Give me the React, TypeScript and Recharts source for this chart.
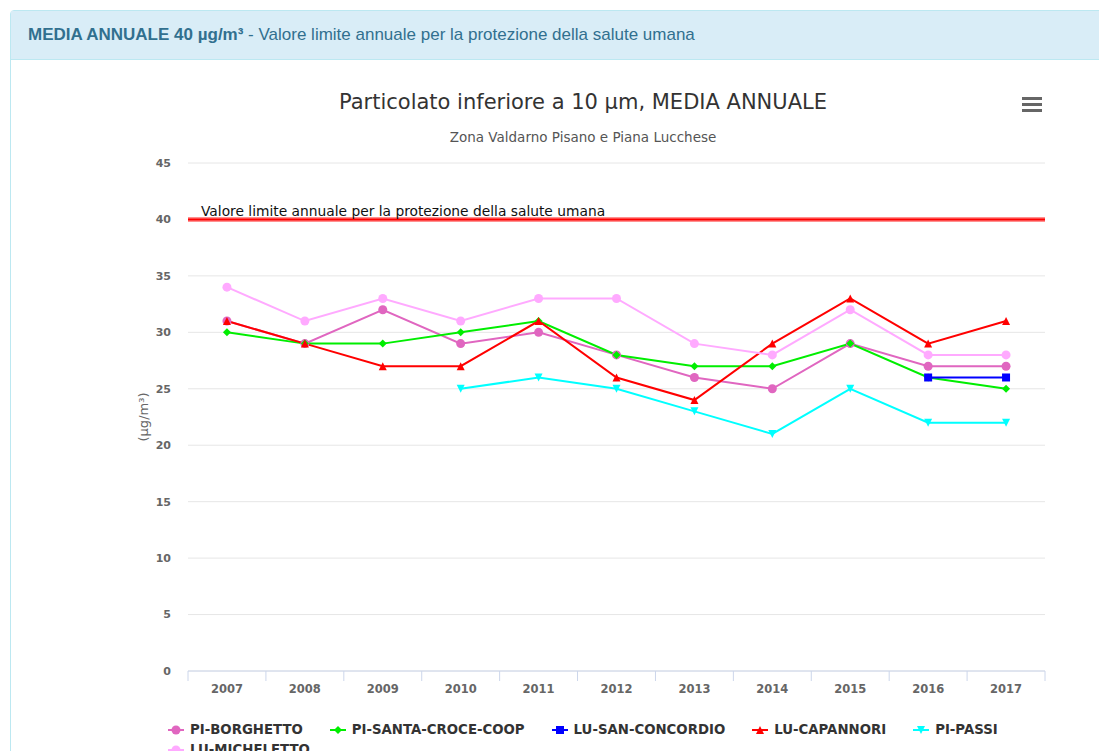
import { CartesianGrid, Legend, Line, LineChart, ReferenceLine, XAxis, YAxis } from "recharts";

const years = ["2007", "2008", "2009", "2010", "2011", "2012", "2013", "2014", "2015", "2016", "2017"];
const borghetto = [31, 29, 32, 29, 30, 28, 26, 25, 29, 27, 27];
const santaCroce = [30, 29, 29, 30, 31, 28, 27, 27, 29, 26, 25];
const sanConcordio = [null, null, null, null, null, null, null, null, null, 26, 26];
const capannori = [31, 29, 27, 27, 31, 26, 24, 29, 33, 29, 31];
const passi = [null, null, null, 25, 26, 25, 23, 21, 25, 22, 22];
const micheletto = [34, 31, 33, 31, 33, 33, 29, 28, 32, 28, 28];
const yTicks = [0, 5, 10, 15, 20, 25, 30, 35, 40, 45];
const limitValue = 40;
const limitLabel = "Valore limite annuale per la protezione della salute umana";

const series = [
  { key: "PI-BORGHETTO", values: borghetto, color: "#e066c0", shape: "circle" },
  { key: "PI-SANTA-CROCE-COOP", values: santaCroce, color: "#00ee00", shape: "diamond" },
  { key: "LU-SAN-CONCORDIO", values: sanConcordio, color: "#0000ff", shape: "square" },
  { key: "LU-CAPANNORI", values: capannori, color: "#ff0000", shape: "triangle" },
  { key: "PI-PASSI", values: passi, color: "#00ffff", shape: "triangle-down" },
  { key: "LU-MICHELETTO", values: micheletto, color: "#ffaaff", shape: "circle" },
];

const data = years.map((y, i) => {
  const row: any = { year: y };
  series.forEach((s) => {
    row[s.key] = s.values[i];
  });
  return row;
});

const W = 1099;
const H = 751;
const PLOT_LEFT = 188;
const PLOT_RIGHT = 54;
const bandW = (W - PLOT_LEFT - PLOT_RIGHT) / years.length;
const font = "'DejaVu Sans', Verdana, sans-serif";

function marker(shape: string, cx: number, cy: number, color: string, key?: any) {
  const r = 4;
  if (shape === "circle") return <circle key={key} cx={cx} cy={cy} r={r + 0.5} fill={color} />;
  if (shape === "square") return <rect key={key} x={cx - r} y={cy - r} width={r * 2} height={r * 2} fill={color} />;
  if (shape === "diamond")
    return <path key={key} d={`M${cx} ${cy - r}L${cx + r} ${cy}L${cx} ${cy + r}L${cx - r} ${cy}Z`} fill={color} />;
  if (shape === "triangle")
    return <path key={key} d={`M${cx} ${cy - r}L${cx + r} ${cy + r}L${cx - r} ${cy + r}Z`} fill={color} />;
  return <path key={key} d={`M${cx - r} ${cy - r}L${cx + r} ${cy - r}L${cx} ${cy + r}Z`} fill={color} />;
}

function XTick(props: any) {
  const { x, y, payload, index } = props;
  const top = y - 8;
  return (
    <g>
      <line x1={x - bandW / 2} x2={x - bandW / 2} y1={top} y2={top + 10} stroke="#ccd6eb" />
      {index === years.length - 1 && (
        <line x1={x + bandW / 2} x2={x + bandW / 2} y1={top} y2={top + 10} stroke="#ccd6eb" />
      )}
      <text x={x} y={top + 22} textAnchor="middle" fill="#666" fontSize={11.5} fontWeight="bold" fontFamily={font}>
        {payload.value}
      </text>
    </g>
  );
}

function LegendBox() {
  return (
    <div style={{ display: "flex", flexWrap: "wrap", width: 860, rowGap: 3, fontFamily: font }}>
      {series.map((s) => (
        <div key={s.key} style={{ display: "flex", alignItems: "center", marginRight: 27, height: 17 }}>
          <svg width={16} height={12} style={{ marginRight: 6 }}>
            <line x1={0} x2={16} y1={6} y2={6} stroke={s.color} strokeWidth={2} />
            {marker(s.shape, 8, 6, s.color)}
          </svg>
          <span style={{ fontSize: 13.3, fontWeight: "bold", color: "#333" }}>{s.key}</span>
        </div>
      ))}
    </div>
  );
}

export default function App() {
  return (
    <div style={{ position: "absolute", left: 0, top: 0, width: W, height: H, overflow: "hidden", background: "#fff" }}>
      <div
        style={{
          position: "absolute",
          left: 10,
          top: 10,
          width: 1110,
          height: 780,
          border: "1px solid #bce8f1",
          borderRadius: 4,
          boxSizing: "border-box",
        }}
      >
        <div
          style={{
            height: 48,
            lineHeight: "48px",
            background: "#d9edf7",
            borderBottom: "1px solid #bce8f1",
            color: "#31708f",
            paddingLeft: 17,
            fontFamily: "'Liberation Sans', Arial, sans-serif",
            fontSize: 17,
          }}
        >
          <b>MEDIA ANNUALE 40 µg/m³</b> - Valore limite annuale per la protezione della salute umana
        </div>
      </div>

      <div
        style={{
          position: "absolute",
          left: 0,
          top: 90,
          width: 1166,
          textAlign: "center",
          fontFamily: font,
          fontSize: 21,
          color: "#333",
        }}
      >
        Particolato inferiore a 10 µm, MEDIA ANNUALE
      </div>
      <div
        style={{
          position: "absolute",
          left: 0,
          top: 129,
          width: 1166,
          textAlign: "center",
          fontFamily: font,
          fontSize: 13.5,
          color: "#555",
        }}
      >
        Zona Valdarno Pisano e Piana Lucchese
      </div>
      <svg style={{ position: "absolute", left: 1022, top: 97 }} width={20} height={16}>
        <rect x={0} y={0} width={20} height={3} fill="#666" />
        <rect x={0} y={6} width={20} height={3} fill="#666" />
        <rect x={0} y={12} width={20} height={3} fill="#666" />
      </svg>

      <div style={{ position: "absolute", left: 0, top: 0 }}>
        <LineChart width={W} height={H} data={data} margin={{ top: 163, right: PLOT_RIGHT, bottom: 50, left: 128 }}>
          <CartesianGrid vertical={false} stroke="#e6e6e6" />
          <XAxis
            dataKey="year"
            scale="band"
            height={30}
            axisLine={{ stroke: "#ccd6eb" }}
            tickLine={false}
            tick={<XTick />}
            interval={0}
          />
          <YAxis
            width={60}
            domain={[0, 45]}
            ticks={yTicks}
            axisLine={false}
            tickLine={false}
            tickSize={6}
            tickMargin={11}
            tick={{ fill: "#666", fontSize: 11, fontWeight: "bold", fontFamily: font }}
            label={{
              value: "(µg/m³)",
              angle: -90,
              position: "insideLeft",
              offset: 15,
              style: { fill: "#666", fontSize: 13, fontFamily: font, textAnchor: "middle" },
            }}
          />
          <ReferenceLine y={limitValue} stroke="#ff9090" strokeWidth={5} />
          <ReferenceLine
            y={limitValue}
            stroke="#ff0000"
            strokeWidth={2}
            label={(p: any) => (
              <text x={p.viewBox.x + 13} y={p.viewBox.y - 3} fill="#111" fontSize={13.8} fontFamily={font}>
                {limitLabel}
              </text>
            )}
          />
          {series.map((s) => (
            <Line
              key={s.key}
              dataKey={s.key}
              type="linear"
              stroke={s.color}
              strokeWidth={2}
              isAnimationActive={false}
              dot={(p: any) =>
                p.cy == null || p.value == null ? <g key={p.index} /> : marker(s.shape, p.cx, p.cy, s.color, p.index)
              }
              activeDot={false}
            />
          ))}
          <Legend
            layout="horizontal"
            verticalAlign="middle"
            align="center"
            wrapperStyle={{ top: 721, left: 168, width: 870 }}
            content={() => <LegendBox />}
          />
        </LineChart>
      </div>
    </div>
  );
}
